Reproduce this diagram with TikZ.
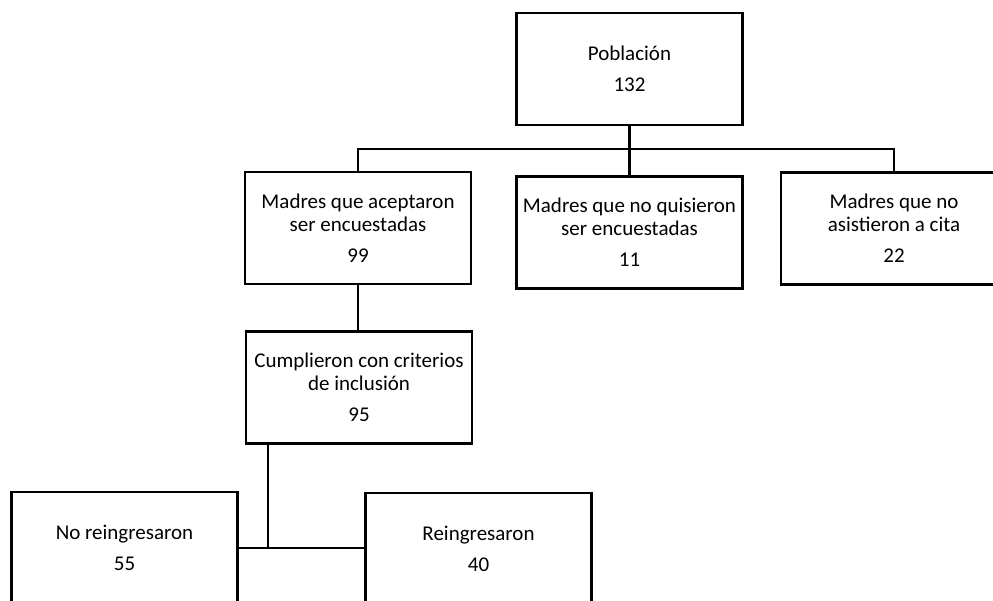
\documentclass[tikz,border=0pt]{standalone}
\usepackage{fontspec}
\setmainfont{Carlito}
\begin{document}
\begin{tikzpicture}[x=1pt,y=-1pt,
  box/.style={draw,line width=2.4pt,minimum width=226pt,minimum height=112pt,inner sep=0pt,align=center,
    font=\fontsize{21}{23}\selectfont},
  conn/.style={line width=2.4pt}]
\useasboundingbox (0,0) rectangle (993,600);
\clip (0,0) rectangle (993,600);
\node[box] (pob) at (629.5,69) {Población\\[8pt]132};
\node[box] (m1) at (358,228) {Madres que aceptaron\\ser encuestadas\\[8pt]99};
\node[box] (m2) at (629.5,232.5) {Madres que no quisieron\\ser encuestadas\\[8pt]11};
\node[box] (m3) at (894,228.5) {Madres que no\\asistieron a cita\\[8pt]22};
\node[box] (cum) at (359,387.5) {Cumplieron con criterios\\de inclusión\\[8pt]95};
\node[box] (no) at (124.5,548) {No reingresaron\\[8pt]55};
\node[box] (re) at (478.5,549) {Reingresaron\\[8pt]40};
\coordinate (bus) at (629.5,149);
\coordinate (j) at (268,548.5);
\draw[conn] (pob.south) -- (bus);
\draw[conn] (m1.north) |- (bus) -| (m3.north);
\draw[conn] (bus) -- (m2.north);
\draw[conn] (m1.south) -- (m1.south |- cum.north);
\draw[conn] (cum.south -| j) -- (j);
\draw[conn] (no.east) -- (no.east -| re.west);
\end{tikzpicture}
\end{document}
